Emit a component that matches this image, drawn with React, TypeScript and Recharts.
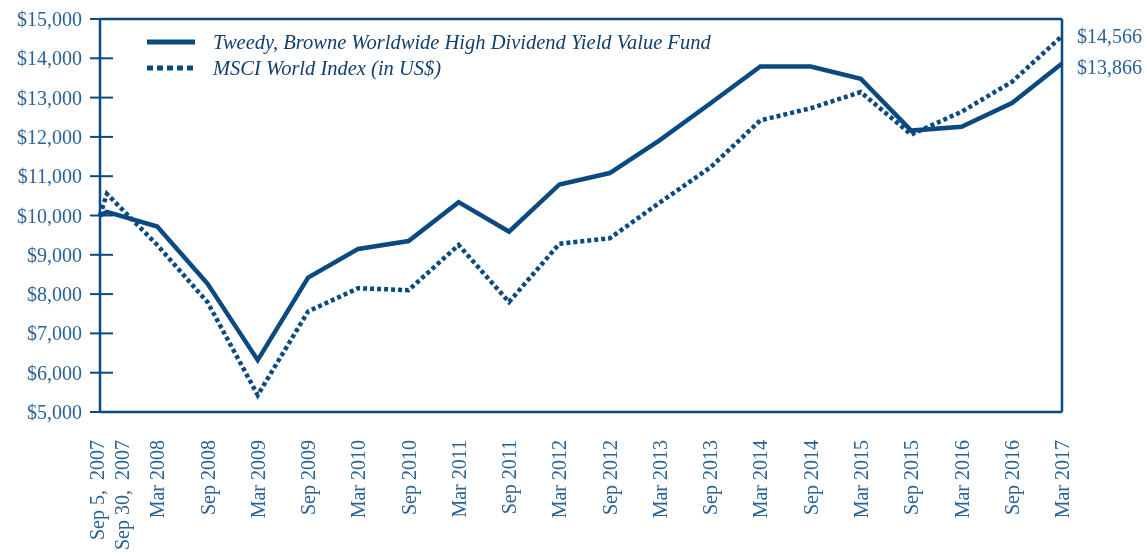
import React from 'react';
import { LineChart, Line, XAxis, YAxis, ReferenceLine } from 'recharts';

const dates = [
  '2007-09-05', '2007-09-30', '2008-03-31', '2008-09-30', '2009-03-31', '2009-09-30',
  '2010-03-31', '2010-09-30', '2011-03-31', '2011-09-30', '2012-03-31', '2012-09-30',
  '2013-03-31', '2013-09-30', '2014-03-31', '2014-09-30', '2015-03-31', '2015-09-30',
  '2016-03-31', '2016-09-30', '2017-03-31'
];

const tickLabels = [
  'Sep 5,  2007', 'Sep 30,  2007', 'Mar 2008', 'Sep 2008', 'Mar 2009', 'Sep 2009',
  'Mar 2010', 'Sep 2010', 'Mar 2011', 'Sep 2011', 'Mar 2012', 'Sep 2012',
  'Mar 2013', 'Sep 2013', 'Mar 2014', 'Sep 2014', 'Mar 2015', 'Sep 2015',
  'Mar 2016', 'Sep 2016', 'Mar 2017'
];

const fundValues = [
  10000, 10090, 9720, 8260, 6320, 8420, 9150, 9350, 10340, 9590, 10790, 11080,
  11920, 12850, 13790, 13790, 13480, 12160, 12260, 12860, 13866
];

const msciValues = [
  10000, 10550, 9250, 7790, 5430, 7560, 8150, 8100, 9250, 7800, 9280, 9420,
  10330, 11220, 12420, 12730, 13140, 12060, 12640, 13400, 14566
];

const yTicks = [5000, 6000, 7000, 8000, 9000, 10000, 11000, 12000, 13000, 14000, 15000];

const FUND_NAME = 'Tweedy, Browne Worldwide High Dividend Yield Value Fund';
const MSCI_NAME = 'MSCI World Index (in US$)';

const NAVY = '#0b4a80';
const TEXT = '#2b6296';
const FONT = '"Liberation Serif", "DejaVu Serif", serif';

const times = dates.map(d => Date.parse(d + 'T00:00:00Z'));
const data = times.map((t, i) => ({ t, fund: fundValues[i], msci: msciValues[i] }));

const fmtMoney = (v: number) => '$' + v.toLocaleString('en-US');

const YTick = (props: any) => {
  const { x, y, payload } = props;
  return (
    <g>
      <line x1={x - 10} x2={x + 13} y1={y} y2={y} stroke={NAVY} strokeWidth={2} />
      <text x={x - 18} y={y} dy={7} textAnchor="end" fill={TEXT} fontSize={20} fontFamily={FONT}>
        {fmtMoney(payload.value)}
      </text>
    </g>
  );
};

// first two labels are spread apart so they do not overlap
const labelShift = [-3, 15];

const XTick = (props: any) => {
  const { x, y, index } = props;
  const dx = (labelShift[index] ?? 0) + 7;
  return (
    <text
      transform={`translate(${x + dx},${y + 28}) rotate(-90)`}
      textAnchor="end"
      fill={TEXT}
      fontSize={20}
      fontFamily={FONT}
      style={{ whiteSpace: 'pre' }}
    >
      {tickLabels[index]}
    </text>
  );
};

const endLabel = (dy: number) => (props: any) => {
  const { x, y, index, value } = props;
  if (index !== data.length - 1) return null;
  return (
    <text x={x + 15} y={y + dy} fill={TEXT} fontSize={20} fontFamily={FONT}>
      {fmtMoney(value)}
    </text>
  );
};

const LegendBox = () => (
  <div
    style={{
      position: 'absolute', left: 147, top: 29,
      fontFamily: FONT, fontStyle: 'italic', fontSize: 20.5, color: '#123f6e', lineHeight: '26px'
    }}
  >
    <div style={{ display: 'flex', alignItems: 'center', whiteSpace: 'nowrap' }}>
      <svg width={48} height={8} style={{ marginRight: 18 }}>
        <line x1={0} x2={48} y1={4} y2={4} stroke={NAVY} strokeWidth={5} />
      </svg>
      <span>{FUND_NAME}</span>
    </div>
    <div style={{ display: 'flex', alignItems: 'center', whiteSpace: 'nowrap' }}>
      <svg width={48} height={8} style={{ marginRight: 18 }}>
        <line x1={0} x2={48} y1={4} y2={4} stroke={NAVY} strokeWidth={5} strokeDasharray="6 4" />
      </svg>
      <span>{MSCI_NAME}</span>
    </div>
  </div>
);

export default function App() {
  return (
    <div style={{ position: 'fixed', left: 0, top: 0, width: 1147, height: 556, overflow: 'hidden' }}>
      <LineChart
        width={1147}
        height={556}
        data={data}
        margin={{ top: 19, right: 85, bottom: 0, left: 0 }}
      >
        <XAxis
          dataKey="t"
          type="number"
          domain={[times[0], times[times.length - 1]]}
          ticks={times}
          interval={0}
          height={144}
          tick={<XTick />}
          tickLine={false}
          tickSize={0}
          tickMargin={0}
          axisLine={{ stroke: NAVY, strokeWidth: 2.5 }}
        />
        <YAxis
          type="number"
          domain={[5000, 15000]}
          ticks={yTicks}
          interval={0}
          width={100}
          tick={<YTick />}
          tickLine={false}
          tickSize={0}
          tickMargin={0}
          axisLine={{ stroke: NAVY, strokeWidth: 2.5 }}
        />
        <ReferenceLine y={15000} stroke={NAVY} strokeWidth={2.5} />
        <ReferenceLine x={times[times.length - 1]} stroke={NAVY} strokeWidth={2.5} />
        <Line
          dataKey="fund"
          name={FUND_NAME}
          stroke={NAVY}
          strokeWidth={4.5}
          dot={false}
          isAnimationActive={false}
          label={endLabel(10)}
        />
        <Line
          dataKey="msci"
          name={MSCI_NAME}
          stroke={NAVY}
          strokeWidth={4.5}
          strokeDasharray="4 3"
          dot={false}
          isAnimationActive={false}
          label={endLabel(7)}
        />
      </LineChart>
      <LegendBox />
    </div>
  );
}
